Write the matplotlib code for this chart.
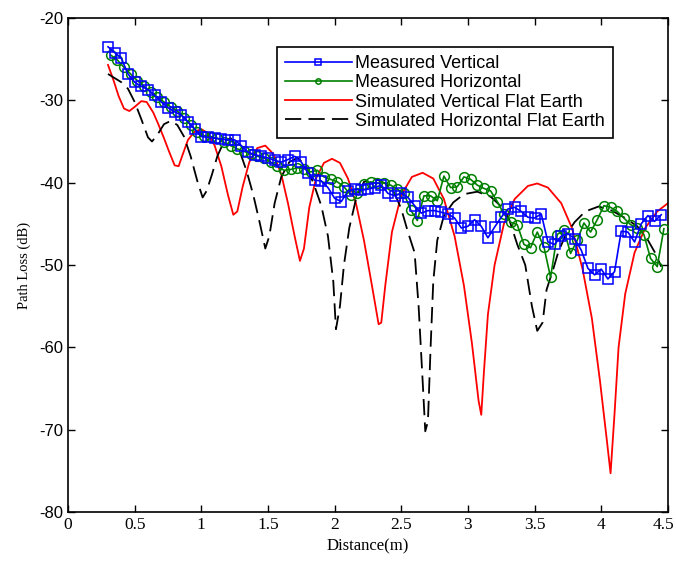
import matplotlib
matplotlib.use("Agg")
import matplotlib.pyplot as plt
import matplotlib.transforms as mtransforms

# Measured data
meas_v_x = [0.30, 0.35, 0.40, 0.45, 0.50, 0.55, 0.60, 0.65, 0.70, 0.75, 0.80, 0.85, 0.90, 0.95,
            1.00, 1.05, 1.10, 1.15, 1.20, 1.25, 1.30, 1.35, 1.40, 1.45, 1.50, 1.55, 1.60, 1.65,
            1.70, 1.75, 1.80, 1.85, 1.90, 1.95, 2.00, 2.05, 2.10, 2.15, 2.20, 2.25, 2.30, 2.35,
            2.40, 2.45, 2.50, 2.55, 2.60, 2.65, 2.70, 2.75, 2.80, 2.85, 2.90, 2.95, 3.00, 3.05,
            3.10, 3.15, 3.20, 3.25, 3.30, 3.35, 3.40, 3.45, 3.50, 3.55, 3.60, 3.65, 3.70, 3.75,
            3.80, 3.85, 3.90, 3.95, 4.00, 4.05, 4.10, 4.15, 4.20, 4.25, 4.30, 4.35, 4.40, 4.45]
meas_v_y = [-23.5, -24.2, -24.9, -26.8, -27.8, -28.3, -28.7, -29.4, -30.2, -30.9, -31.4, -31.8, -32.6, -33.5,
            -34.4, -34.5, -34.6, -34.7, -34.8, -34.8, -35.5, -36.3, -36.6, -36.8, -37.0, -37.3, -37.5, -37.2,
            -36.8, -37.5, -38.8, -39.7, -39.8, -40.6, -41.9, -42.3, -41.0, -40.8, -40.9, -40.8, -40.6, -40.3,
            -41.3, -41.6, -41.3, -41.8, -42.8, -43.7, -43.4, -43.4, -43.6, -43.8, -44.3, -45.5, -45.3, -44.5,
            -45.3, -46.7, -45.4, -44.2, -43.2, -43.0, -43.5, -44.2, -44.3, -43.8, -47.2, -47.5, -46.5, -46.2,
            -46.8, -48.2, -50.4, -51.2, -50.5, -51.7, -50.8, -45.9, -46.0, -47.2, -45.0, -44.0, -44.7, -43.9]

meas_h_x = [0.32, 0.37, 0.42, 0.47, 0.52, 0.57, 0.62, 0.67, 0.72, 0.77, 0.82, 0.87, 0.92, 0.97,
            1.02, 1.07, 1.12, 1.17, 1.22, 1.27, 1.32, 1.37, 1.42, 1.47, 1.52, 1.57, 1.62, 1.67,
            1.72, 1.77, 1.82, 1.87, 1.92, 1.97, 2.02, 2.07, 2.12, 2.17, 2.22, 2.27, 2.32, 2.37,
            2.42, 2.47, 2.52, 2.57, 2.62, 2.67, 2.72, 2.77, 2.82, 2.87, 2.92, 2.97, 3.02, 3.07,
            3.12, 3.17, 3.22, 3.27, 3.32, 3.37, 3.42, 3.47, 3.52, 3.57, 3.62, 3.67, 3.72, 3.77,
            3.82, 3.87, 3.92, 3.97, 4.02, 4.07, 4.12, 4.17, 4.22, 4.27, 4.32, 4.37, 4.42, 4.47]
meas_h_y = [-24.5, -25.1, -26.0, -26.8, -27.6, -28.3, -29.0, -29.6, -30.2, -30.8, -31.3, -32.1, -33.0, -33.8,
            -34.3, -34.4, -34.6, -35.1, -35.5, -35.9, -36.2, -36.5, -36.8, -37.0, -37.5, -38.0, -38.5, -38.4,
            -38.2, -38.3, -38.7, -38.5, -39.3, -39.6, -39.9, -40.5, -41.5, -41.2, -40.2, -39.9, -40.1, -40.0,
            -40.3, -40.8, -41.3, -43.3, -44.6, -41.6, -41.6, -42.2, -39.2, -40.6, -40.5, -39.3, -39.6, -40.3,
            -40.7, -41.0, -42.3, -43.8, -44.8, -45.1, -47.5, -47.9, -46.0, -47.8, -51.5, -46.3, -45.7, -48.6,
            -47.0, -44.9, -46.0, -44.5, -42.8, -43.0, -43.5, -44.3, -45.1, -45.5, -46.3, -49.2, -50.2, -45.6]

# Simulated flat earth, vertical polarisation
sim_v_x = [0.30, 0.34, 0.38, 0.42, 0.46, 0.50, 0.55, 0.59, 0.64, 0.68, 0.72, 0.76, 0.80, 0.83,
           0.86, 0.90, 0.95, 1.00, 1.05, 1.10, 1.15, 1.20, 1.24, 1.27, 1.31, 1.36, 1.42, 1.48,
           1.54, 1.60, 1.65, 1.70, 1.74, 1.77, 1.81, 1.86, 1.92, 1.98, 2.04, 2.10, 2.16, 2.22,
           2.28, 2.33, 2.35, 2.38, 2.43, 2.50, 2.58, 2.66, 2.74, 2.82, 2.90, 2.97, 3.03, 3.08,
           3.10, 3.12, 3.15, 3.20, 3.27, 3.35, 3.45, 3.52, 3.60, 3.70, 3.78, 3.86, 3.93, 3.99,
           4.04, 4.07, 4.10, 4.13, 4.18, 4.25, 4.33, 4.42, 4.50]
sim_v_y = [-25.7, -27.5, -29.5, -31.0, -31.3, -30.8, -30.1, -30.2, -31.5, -33.0, -34.6, -36.3, -37.9, -38.0,
           -36.6, -34.8, -33.8, -33.5, -34.0, -35.5, -38.0, -41.5, -43.9, -43.5, -40.5, -37.5, -35.8, -35.5,
           -36.5, -39.0, -42.5, -46.5, -49.5, -48.0, -43.0, -39.5, -37.6, -37.1, -37.6, -39.5, -42.5, -47.0,
           -52.5, -57.2, -57.0, -52.5, -46.0, -41.5, -39.3, -38.8, -39.5, -42.0, -46.5, -52.5, -59.5, -66.5,
           -68.2, -63.0, -56.0, -50.0, -45.0, -42.0, -40.4, -40.1, -40.6, -42.5, -45.5, -50.5, -56.5, -64.0,
           -71.0, -75.3, -68.0, -60.0, -53.5, -48.5, -45.5, -43.5, -42.5]

# Simulated flat earth, horizontal polarisation
sim_h_x = [0.30, 0.35, 0.40, 0.45, 0.50, 0.55, 0.60, 0.63, 0.67, 0.72, 0.77, 0.82, 0.87, 0.92,
           0.97, 1.01, 1.04, 1.08, 1.12, 1.17, 1.22, 1.28, 1.34, 1.39, 1.44, 1.48, 1.51, 1.55,
           1.60, 1.66, 1.72, 1.78, 1.84, 1.90, 1.95, 1.99, 2.01, 2.04, 2.07, 2.11, 2.16, 2.22,
           2.30, 2.38, 2.45, 2.50, 2.55, 2.60, 2.63, 2.66, 2.68, 2.70, 2.72, 2.74, 2.77, 2.82,
           2.89, 2.97, 3.07, 3.17, 3.25, 3.31, 3.37, 3.43, 3.48, 3.52, 3.56, 3.59, 3.64, 3.68,
           3.73, 3.80, 3.88, 3.98, 4.08, 4.18, 4.27, 4.34, 4.40, 4.45]
sim_h_y = [-26.8, -27.3, -27.8, -28.6, -30.2, -32.3, -34.5, -35.0, -34.2, -32.9, -32.5, -33.0, -34.4, -36.8,
           -39.8, -41.8, -41.0, -39.0, -36.8, -35.0, -34.6, -35.8, -38.6, -41.5, -45.0, -48.0, -46.5, -42.5,
           -39.3, -37.5, -37.0, -37.8, -40.0, -42.8, -46.5, -52.0, -57.8, -55.0, -50.0, -45.5, -42.0, -39.9,
           -39.5, -40.1, -41.3, -43.2, -46.0, -48.5, -55.0, -64.0, -70.2, -69.0, -60.0, -52.0, -47.0, -44.0,
           -42.4, -41.4, -41.1, -41.7, -42.9, -44.5, -47.5, -50.0, -55.0, -58.0, -57.0, -53.0, -50.5, -48.3,
           -46.5, -44.8, -43.5, -42.9, -43.4, -44.3, -45.3, -46.7, -48.4, -50.2]

x_ticks = [0, 0.5, 1, 1.5, 2, 2.5, 3, 3.5, 4, 4.5]
x_tick_labels = ["0", "0.5", "1", "1.5", "2", "2.5", "3", "3.5", "4", "4.5"]
y_ticks = [-80, -70, -60, -50, -40, -30, -20]

fig = plt.figure(figsize=(6.76, 5.62), dpi=100)
ax = fig.add_axes([0.1006, 0.089, 0.8874, 0.879])

ax.plot(meas_v_x, meas_v_y, color="#0000ff", lw=1.2, marker="s", ms=7, mfc="none",
        mec="#0000ff", mew=1.1, label="Measured Vertical", zorder=4)
ax.plot(meas_h_x, meas_h_y, color="#008000", lw=1.2, marker="o", ms=7, mfc="none",
        mec="#008000", mew=1.1, label="Measured Horizontal", zorder=3)
ax.plot(sim_v_x, sim_v_y, color="#ff0000", lw=1.3, label="Simulated Vertical Flat Earth", zorder=2)
ax.plot(sim_h_x, sim_h_y, color="black", lw=1.3, dashes=(9, 4),
        label="Simulated Horizontal Flat Earth", zorder=2)

ax.set_xlim(0, 4.5)
ax.set_ylim(-80, -20)
ax.set_xticks(x_ticks)
ax.set_xticklabels(x_tick_labels, family="Liberation Serif", fontsize=12.5)
ax.set_yticks(y_ticks)
ax.set_yticklabels([str(v) for v in y_ticks], family="Liberation Sans", fontsize=12)
ax.tick_params(direction="in", top=True, right=True, length=5, width=1)
for s in ax.spines.values():
    s.set_linewidth(1.2)

# nudge the last x tick label slightly left so it stays inside the figure
last = ax.get_xticklabels()[-1]
last.set_transform(last.get_transform() + mtransforms.ScaledTranslation(-4 / 100, 0, fig.dpi_scale_trans))

ax.set_xlabel("Distance(m)", family="Liberation Serif", fontsize=12, labelpad=4)
ax.set_ylabel("Path Loss (dB)", family="Liberation Serif", fontsize=10.5, labelpad=6)

leg = ax.legend(loc="upper left", bbox_to_anchor=(0.348, 0.941), frameon=True, fancybox=False,
                edgecolor="black", framealpha=1, prop={"family": "Liberation Sans", "size": 13},
                handlelength=3.7, handletextpad=0.2, borderpad=0.45, labelspacing=0.12,
                markerscale=0.55, borderaxespad=0)
leg.get_frame().set_linewidth(1.2)

fig.savefig("out.png", dpi=100)
